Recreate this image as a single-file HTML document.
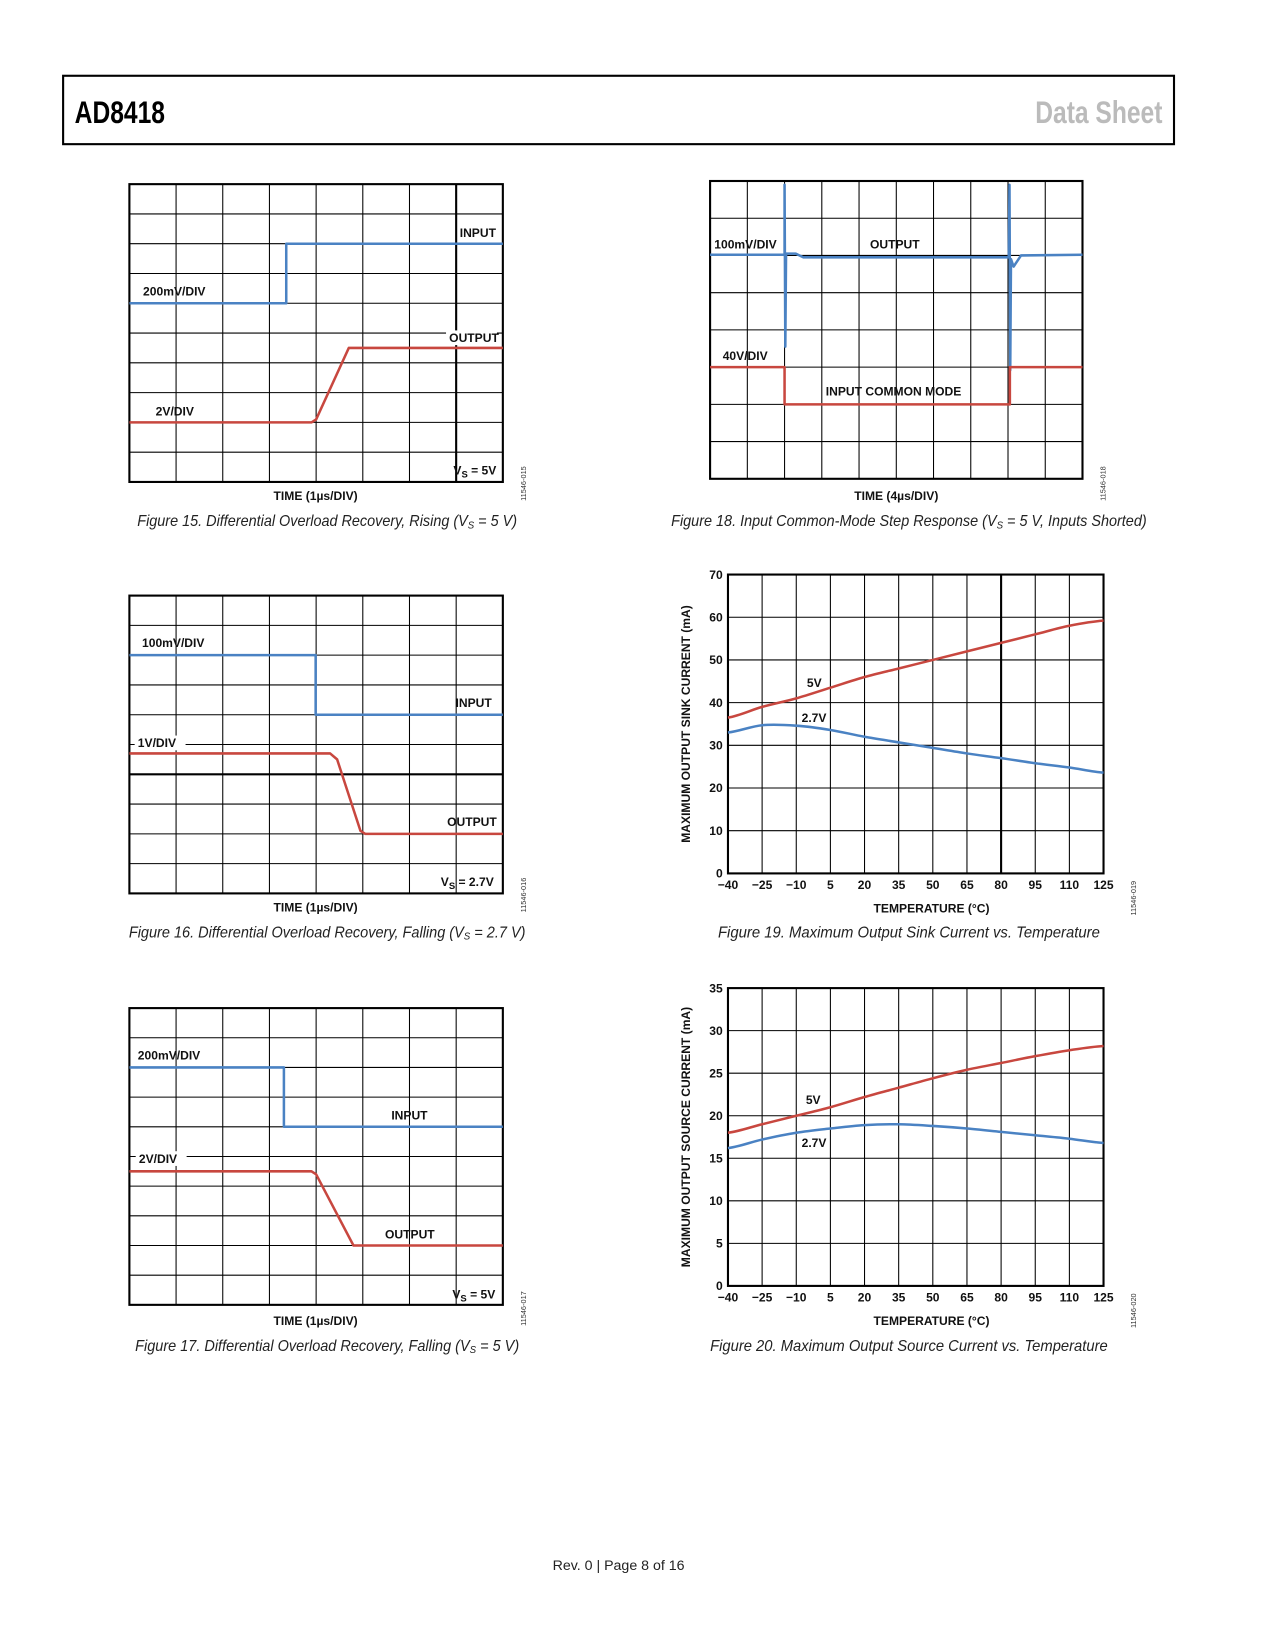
<!DOCTYPE html>
<html><head><meta charset="utf-8"><style>
html,body{margin:0;padding:0;background:#fff}
svg{display:block}
text{font-family:"Liberation Sans",sans-serif}
.lb{font-weight:bold;font-size:11.5px;fill:#111}
.cap{font-style:italic;font-size:15px;fill:#222}
.code{font-size:7px;fill:#333}
</style></head><body>
<svg id="page" width="1275" height="1650" viewBox="0 0 1212 1568" preserveAspectRatio="none" xmlns="http://www.w3.org/2000/svg">
<rect x="60" y="72" width="1056" height="65" fill="none" stroke="#000" stroke-width="2"/>
<text x="71" y="117" font-size="30" font-weight="bold" transform="translate(71 0) scale(0.78 1) translate(-71 0)">AD8418</text>
<text x="1105" y="117" font-size="30" font-weight="bold" fill="#bbb" text-anchor="end" transform="translate(1105 0) scale(0.78 1) translate(-1105 0)">Data Sheet</text>
<text x="588" y="1492" font-size="13.5" text-anchor="middle" fill="#222">Rev. 0 | Page 8 of 16</text>
</svg>
<script>
// ---- Scope trace data (x in divisions, y in divisions from top) ----
const f15Input = [[0,4],[3.36,4],[3.36,2],[8,2]];
const f15Output = [[0,8],[3.9,8],[4.0,7.9],[4.7,5.5],[8,5.5]];
const f16Input = [[0,2],[3.99,2],[3.99,4],[8,4]];
const f16Output = [[0,5.3],[4.3,5.3],[4.45,5.5],[4.95,7.9],[5.05,8],[8,8]];
const f17Input = [[0,2],[3.31,2],[3.31,4],[8,4]];
const f17Output = [[0,5.5],[3.9,5.5],[4.0,5.6],[4.8,8],[8,8]];
const f18Output = [[0,1.98],[2,1.98],[2,0.1],[2.02,4.45],[2.04,1.95],[2.3,1.95],[2.5,2.05],[8.02,2.05],[8.04,0.1],[8.06,5.08],[8.08,2.1],[8.15,2.3],[8.35,2.0],[10,1.98]];
const f18Input = [[0,5],[2,5],[2,6],[8.05,6],[8.05,5],[10,5]];
// ---- Temperature chart data ----
const temps = [-40,-25,-10,5,20,35,50,65,80,95,110,125];
const sink5V = [36.5,39,41,43.5,46,48,50,52,54,56,58,59.2];
const sink27V = [33,34.7,34.6,33.6,32,30.7,29.4,28.1,27,25.8,24.8,23.6];
const src5V = [18,19,20,21,22.2,23.3,24.4,25.4,26.2,27,27.7,28.2];
const src27V = [16.2,17.2,18,18.5,18.9,19,18.8,18.5,18.1,17.7,17.3,16.8];
const xTicks = ["\u221240","\u221225","\u221210","5","20","35","50","65","80","95","110","125"];
const sinkYTicks = [0,10,20,30,40,50,60,70];
const srcYTicks = [0,5,10,15,20,25,30,35];

const NS="http://www.w3.org/2000/svg";
const svg=document.getElementById('page');
function mk(tag,attrs,parent){const e=document.createElementNS(NS,tag);for(const k in attrs)e.setAttribute(k,attrs[k]);(parent||svg).appendChild(e);return e;}
function txt(x,y,s,cls,extra,parent){const e=mk('text',Object.assign({x:x,y:y,class:cls},extra||{}),parent);e.textContent=s;return e;}
const BLUE="#4a82c3",RED="#c8473f";

function scope(id,x0,y0,w,h,cols,rows,thickCol,thickRow){
  const g=mk('g',{});
  
  
  const cw=w/cols,rh=h/rows;
  for(let i=1;i<cols;i++){const l=mk('line',{x1:x0+i*cw,x2:x0+i*cw,y1:y0,y2:y0+h,stroke:'#000','stroke-width':i===thickCol?2:1},g);
    }
  for(let j=1;j<rows;j++){const l=mk('line',{x1:x0,x2:x0+w,y1:y0+j*rh,y2:y0+j*rh,stroke:'#000','stroke-width':j===thickRow?2:1},g);
    }
  const b=mk('rect',{x:x0,y:y0,width:w,height:h,fill:'none',stroke:'#000','stroke-width':2},g);
  
  return {g:g,sx:d=>x0+d*cw,sy:d=>y0+d*rh};
}
function trace(sc,pts,color,name){
  const p=mk('polyline',{points:pts.map(q=>sc.sx(q[0])+','+sc.sy(q[1])).join(' '),fill:'none',stroke:color,'stroke-width':2.4,'stroke-linejoin':'round'},sc.g);
  
}
function label(x,y,s,name,bg){
  if(bg){const r=mk('rect',{x:x-3,y:y-11,width:s.length*7.4+4,height:14,fill:'#fff'});
    }
  const t=txt(x,y,s,'lb');return t;
}
function vsLabel(x,y,v,name){
  const t=mk('text',{x:x,y:y,class:'lb'});
  t.innerHTML='V<tspan font-size="9" dy="3">S</tspan><tspan dy="-3"> = '+v+'</tspan>';
}
function caption(cx,y,html,len,name){
  const t=mk('text',{x:cx,y:y,class:'cap','text-anchor':'middle',textLength:len,lengthAdjust:'spacingAndGlyphs'});
  t.innerHTML=html;
}
function code(x,y,s,name){
  const t=txt(x,y,s,'code',{transform:'rotate(-90 '+x+' '+y+')'});
}
function axTitle(cx,y,s,name){const t=txt(cx,y,s,'lb',{'text-anchor':'middle'});}

// Figure 15
let s=scope('fig15',123,175,355,283,8,10,7,0);
trace(s,f15Input,BLUE,'input-trace');trace(s,f15Output,RED,'output-trace');
label(437,225,'INPUT','input-label');label(136,281,'200mV/DIV','input-scale-label');
label(427,325,'OUTPUT','output-label',true);label(148,395,'2V/DIV','output-scale-label');
vsLabel(431,451,'5V','supply-label');
axTitle(300,475,'TIME (1\u00b5s/DIV)','x-axis-title');
caption(311,500,'Figure 15. Differential Overload Recovery, Rising (V<tspan font-size="10" dy="2">S</tspan><tspan dy="-2"> = 5 V)</tspan>',361,'figure-15-caption');
code(500,476,'11546-015','figure-code');

// Figure 16
s=scope('fig16',123,566,355,283,8,10,0,6);
trace(s,f16Input,BLUE,'input-trace');trace(s,f16Output,RED,'output-trace');
label(135,615,'100mV/DIV','input-scale-label');label(433,672,'INPUT','input-label');
label(131,710,'1V/DIV','output-scale-label',true);label(425,785,'OUTPUT','output-label');
vsLabel(419,842,'2.7V','supply-label');
axTitle(300,866,'TIME (1\u00b5s/DIV)','x-axis-title');
caption(311,891,'Figure 16. Differential Overload Recovery, Falling (V<tspan font-size="10" dy="2">S</tspan><tspan dy="-2"> = 2.7 V)</tspan>',377,'figure-16-caption');
code(500,867,'11546-016','figure-code');

// Figure 17
s=scope('fig17',123,958,355,282,8,10,0,0);
trace(s,f17Input,BLUE,'input-trace');trace(s,f17Output,RED,'output-trace');
label(131,1007,'200mV/DIV','input-scale-label');label(372,1064,'INPUT','input-label');
label(132,1105,'2V/DIV','output-scale-label',true);label(366,1177,'OUTPUT','output-label');
vsLabel(430,1234,'5V','supply-label');
axTitle(300,1259,'TIME (1\u00b5s/DIV)','x-axis-title');
caption(311,1284,'Figure 17. Differential Overload Recovery, Falling (V<tspan font-size="10" dy="2">S</tspan><tspan dy="-2"> = 5 V)</tspan>',365,'figure-17-caption');
code(500,1260,'11546-017','figure-code');

// Figure 18
s=scope('fig18',675,172,354,283,10,8,0,0);
trace(s,f18Output,BLUE,'output-trace');trace(s,f18Input,RED,'input-cm-trace');
label(679,236,'100mV/DIV','output-scale-label');label(827,236,'OUTPUT','output-label');
label(687,342,'40V/DIV','input-scale-label');label(785,376,'INPUT COMMON MODE','input-cm-label');
axTitle(852,475,'TIME (4\u00b5s/DIV)','x-axis-title');
caption(864,500,'Figure 18. Input Common-Mode Step Response (V<tspan font-size="10" dy="2">S</tspan><tspan dy="-2"> = 5 V, Inputs Shorted)</tspan>',452,'figure-18-caption');
code(1051,476,'11546-018','figure-code');

// Temperature charts
function tempChart(id,x0,y0,w,h,ymax,yTicks,s5,s27,l5,l27,ytitle,cap,capLen,capY,codeStr,thick80){
  const g=mk('g',{});
  
  
  const sx=t=>x0+(t+40)/165*w, sy=v=>y0+h-v/ymax*h;
  temps.forEach((t,i)=>{
    const x=sx(t);
    if(i>0&&i<temps.length-1){const l=mk('line',{x1:x,x2:x,y1:y0,y2:y0+h,stroke:'#000','stroke-width':(thick80&&t===80)?2:1},g);
      }
    const tl=txt(x,y0+h+15,xTicks[i],'lb',{'text-anchor':'middle'},g);
    
  });
  yTicks.forEach((v,i)=>{
    const y=sy(v);
    if(i>0&&i<yTicks.length-1){const l=mk('line',{x1:x0,x2:x0+w,y1:y,y2:y,stroke:'#000','stroke-width':1},g);
      }
    const tl=txt(x0-5,y+4,String(v),'lb',{'text-anchor':'end'},g);
    
  });
  const b=mk('rect',{x:x0,y:y0,width:w,height:h,fill:'none',stroke:'#000','stroke-width':2},g);
  
  function line(vals,color,name){
    let d='M'+sx(temps[0])+','+sy(vals[0]);
    for(let i=1;i<vals.length;i++){
      const x0p=sx(temps[i-1]),x1p=sx(temps[i]);
      const ym1=sy(vals[Math.max(0,i-2)]),y0p=sy(vals[i-1]),y1p=sy(vals[i]),y2p=sy(vals[Math.min(vals.length-1,i+1)]);
      const dx=(x1p-x0p)/3;
      d+=' C'+(x0p+dx)+','+(y0p+(y1p-ym1)/6)+' '+(x1p-dx)+','+(y1p-(y2p-y0p)/6)+' '+x1p+','+y1p;
    }
    const p=mk('path',{d:d,fill:'none',stroke:color,'stroke-width':2.4},g);
    
  }
  line(s5,RED,'series-5v');line(s27,BLUE,'series-2-7v');
  let t=txt(l5[0],l5[1],'5V','lb',{},g);
  t=txt(l27[0],l27[1],'2.7V','lb',{},g);
  t=txt(0,0,ytitle,'lb',{'text-anchor':'middle',transform:'translate(656 '+(y0+h/2)+') rotate(-90)'},g);
  
  t=txt(x0+w/2+15,y0+h+37,'TEMPERATURE (\u00b0C)','lb',{'text-anchor':'middle'},g);
  
  caption(864,capY,cap,capLen,id+'-caption');
  code(1080,y0+h+40,codeStr,'figure-code');
}
tempChart('fig19',692,546,357,284,70,sinkYTicks,sink5V,sink27V,[767,653],[762,686],'MAXIMUM OUTPUT SINK CURRENT (mA)','Figure 19. Maximum Output Sink Current vs. Temperature',363,891,'11546-019',true);
tempChart('fig20',692,939,357,283,35,srcYTicks,src5V,src27V,[766,1049],[762,1090],'MAXIMUM OUTPUT SOURCE CURRENT (mA)','Figure 20. Maximum Output Source Current vs. Temperature',378,1284,'11546-020',false);
</script>
</body></html>
